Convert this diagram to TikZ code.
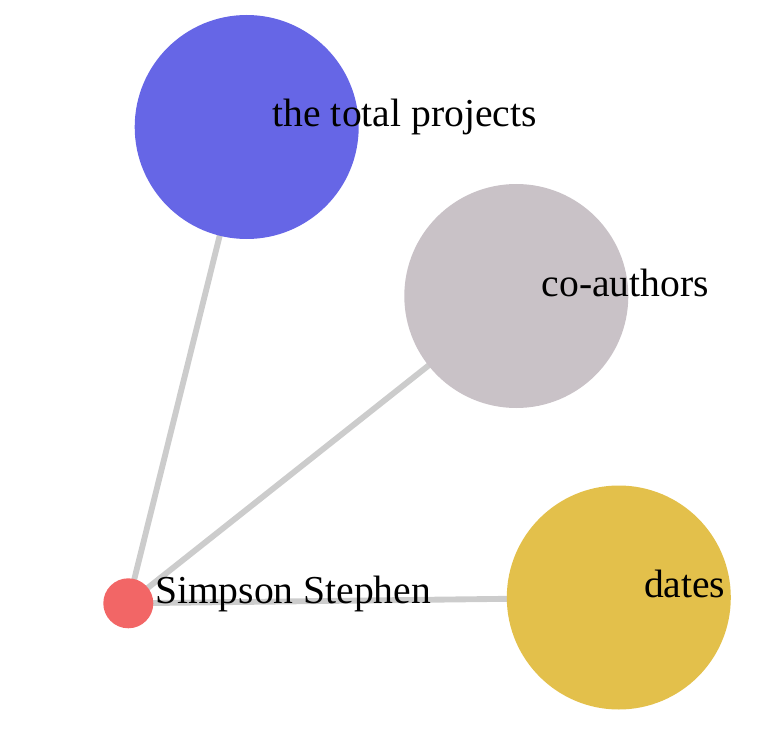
\documentclass[tikz,border=0pt]{standalone}
\usepackage{fontspec}
\setmainfont{Liberation Serif}
\pgfdeclarelayer{edges}
\pgfsetlayers{edges,main}
\definecolor{cblue}{HTML}{6666E6}
\definecolor{cgray}{HTML}{C9C2C7}
\definecolor{cyellow}{HTML}{E3C04B}
\definecolor{cred}{HTML}{F26666}
\definecolor{cedge}{HTML}{CCCCCC}
\tikzset{
  big/.style={circle, inner sep=0pt, outer sep=0pt, minimum size=168pt},
  small/.style={circle, inner sep=0pt, outer sep=0pt, minimum size=37.5pt},
  lbl/.style={anchor=base west, inner sep=0pt, outer sep=0pt, font=\fontsize{29.7pt}{34pt}\selectfont},
  link/.style={draw=cedge, line width=4.4pt}
}
\begin{document}
\begin{tikzpicture}[x=0.75pt, y=-0.75pt]
\useasboundingbox (0,0) rectangle (778,738);
\node[big, fill=cblue] (proj) at (246.7,127) {};
\node[big, fill=cgray] (coau) at (516.3,296) {};
\node[big, fill=cyellow] (dates) at (618.8,597.5) {};
\node[small, fill=cred] (simp) at (128.3,603.3) {};
\begin{pgfonlayer}{edges}
\draw[link] (simp.center) -- (proj.center);
\draw[link] (simp.center) -- (coau.center);
\draw[link] (simp.center) -- (dates.center);
\end{pgfonlayer}
\node[lbl] (lproj) at (272.7,127) {the total projects};
\node[lbl] (lcoau) at (541.7,296) {co-authors};
\node[lbl] (ldates) at (644,597) {dates};
\node[lbl] (lsimp) at (155,603.3) {Simpson Stephen};
\end{tikzpicture}
\end{document}
